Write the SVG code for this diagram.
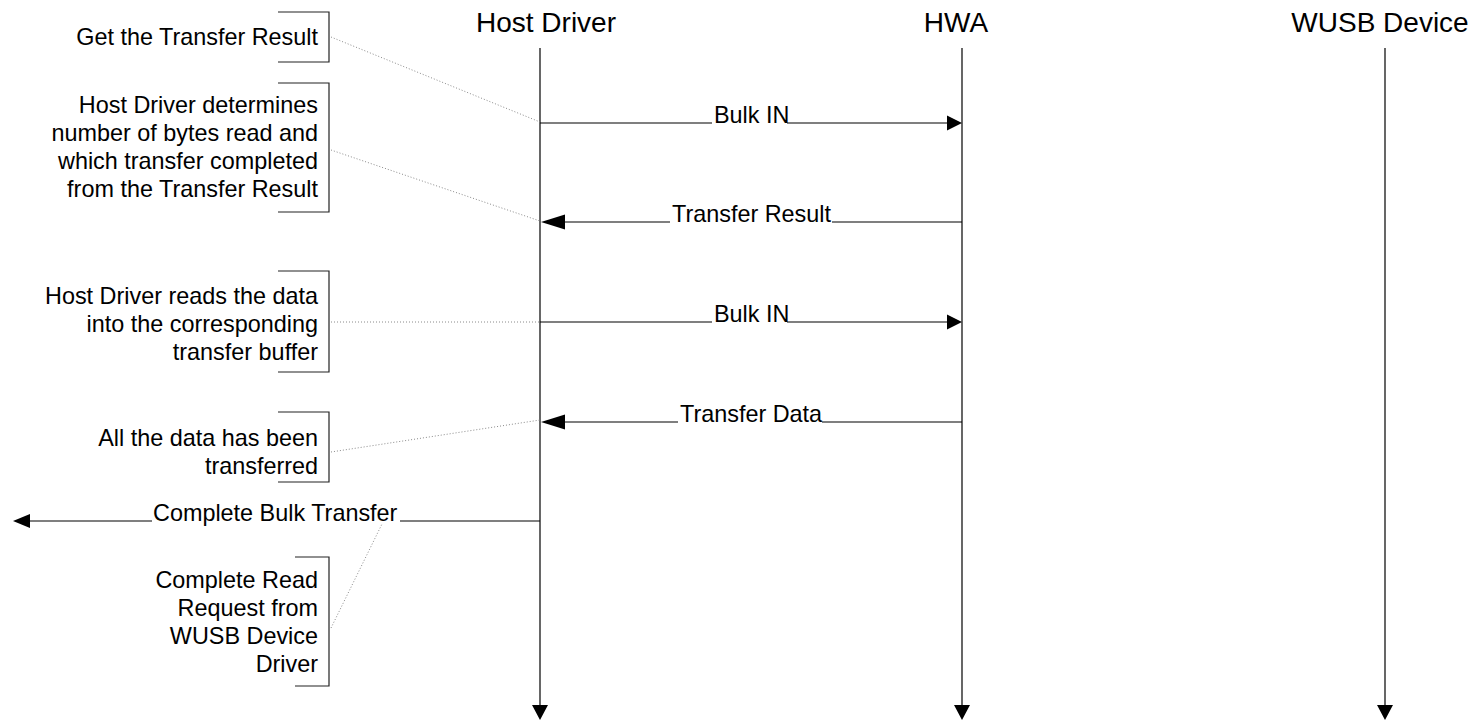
<svg xmlns="http://www.w3.org/2000/svg" width="1480" height="721" viewBox="0 0 1480 721">
<style>
text{font-family:"Liberation Sans",Arial,sans-serif;fill:#000}
.hd{font-size:28px;text-anchor:middle}
.lb{font-size:23.4px}
.nt{font-size:23.4px;text-anchor:end}
.ln{stroke:#000;stroke-width:1.2;fill:none}
.br{stroke:#222;stroke-width:1.2;fill:none}
.dt{stroke:#8a8a8a;stroke-width:1;stroke-dasharray:1 2;fill:none}
.ah{fill:#000}
</style>
<g id="host-driver">
<text class="hd" x="546" y="32">Host Driver</text>
<line class="ln" x1="540" y1="48" x2="540" y2="706"/>
<polygon class="ah" points="532,705 548,705 540,720"/>
</g>
<g id="hwa">
<text class="hd" x="956" y="32">HWA</text>
<line class="ln" x1="962" y1="48" x2="962" y2="706"/>
<polygon class="ah" points="954,705 970,705 962,720"/>
</g>
<g id="wusb-device">
<text class="hd" x="1380" y="32">WUSB Device</text>
<line class="ln" x1="1385" y1="48" x2="1385" y2="706"/>
<polygon class="ah" points="1377,705 1393,705 1385,720"/>
</g>
<g id="note1">
<polyline class="br" points="278,12 329,12 329,62 278,62"/>
<text class="nt" x="318" y="45">Get the Transfer Result</text>
</g>
<g id="note2">
<polyline class="br" points="278,83 329,83 329,212 278,212"/>
<text class="nt" x="318" y="113">Host Driver determines</text>
<text class="nt" x="318" y="141">number of bytes read and</text>
<text class="nt" x="318" y="169">which transfer completed</text>
<text class="nt" x="318" y="197">from the Transfer Result</text>
</g>
<g id="note3">
<polyline class="br" points="278,271 329,271 329,372 278,372"/>
<text class="nt" x="318" y="304">Host Driver reads the data</text>
<text class="nt" x="318" y="332">into the corresponding</text>
<text class="nt" x="318" y="360">transfer buffer</text>
</g>
<g id="note4">
<polyline class="br" points="278,412 329,412 329,482 278,482"/>
<text class="nt" x="318" y="446">All the data has been</text>
<text class="nt" x="318" y="474">transferred</text>
</g>
<g id="note5">
<polyline class="br" points="295,557 329,557 329,686 295,686"/>
<text class="nt" x="318" y="588">Complete Read</text>
<text class="nt" x="318" y="616">Request from</text>
<text class="nt" x="318" y="644">WUSB Device</text>
<text class="nt" x="318" y="672">Driver</text>
</g>
<g id="connectors">
<line class="dt" x1="331" y1="37" x2="540" y2="122"/>
<line class="dt" x1="331" y1="150" x2="540" y2="221"/>
<line class="dt" x1="331" y1="322" x2="540" y2="322"/>
<line class="dt" x1="331" y1="452" x2="540" y2="420"/>
<line class="dt" x1="331" y1="628" x2="382" y2="524"/>

<line class="ln" x1="540" y1="123" x2="712" y2="123"/>
<line class="ln" x1="787" y1="123" x2="947" y2="123"/>
<polygon class="ah" points="947,115.5 962,123 947,130.5"/>
<text class="lb" x="714" y="122.5">Bulk IN</text>

<line class="ln" x1="962" y1="222" x2="832" y2="222"/>
<line class="ln" x1="670" y1="222" x2="562" y2="222"/>
<polygon class="ah" points="565,214.5 541,222 565,229.5"/>
<text class="lb" x="672" y="221.5">Transfer Result</text>

<line class="ln" x1="540" y1="322" x2="712" y2="322"/>
<line class="ln" x1="787" y1="322" x2="947" y2="322"/>
<polygon class="ah" points="947,314.5 962,322 947,329.5"/>
<text class="lb" x="714" y="321.5">Bulk IN</text>

<line class="ln" x1="962" y1="422" x2="822" y2="422"/>
<line class="ln" x1="678" y1="422" x2="562" y2="422"/>
<polygon class="ah" points="565,414.5 541,422 565,429.5"/>
<text class="lb" x="680" y="421.5">Transfer Data</text>

<line class="ln" x1="540" y1="521" x2="400" y2="521"/>
<line class="ln" x1="152" y1="521" x2="28" y2="521"/>
<polygon class="ah" points="30,514 13,521 30,528"/>
<text class="lb" x="153" y="520.5">Complete Bulk Transfer</text>
</g>
</svg>
